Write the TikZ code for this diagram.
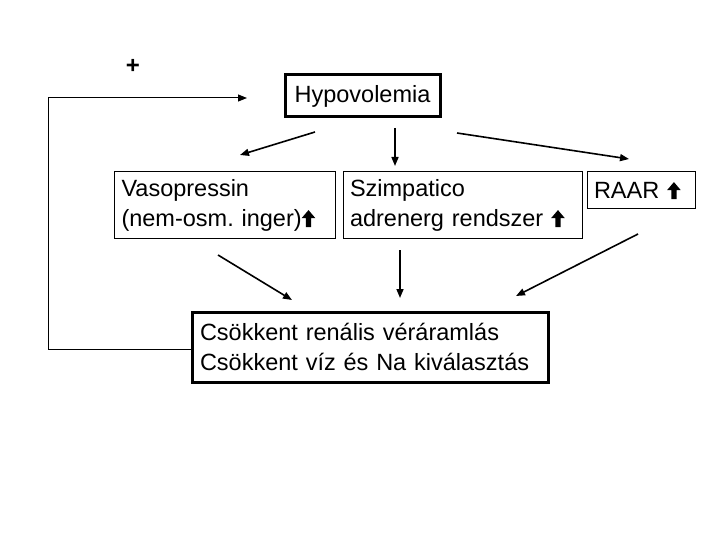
\documentclass[tikz,border=0pt]{standalone}
\usepackage{fontspec}
\setmainfont{Liberation Sans}
\usetikzlibrary{arrows.meta}
\newcommand{\fel}{\tikz[x=1pt, y=1pt, baseline=-1pt]
  \fill (-2.6,-2) -- (2.6,-2) -- (2.6,7) -- (6.8,7) -- (0,15) -- (-6.8,7) -- (-2.6,7) -- cycle;}

\begin{document}
\begin{tikzpicture}[x=1pt, y=-1pt,
  thinbox/.style={draw, line width=1pt, align=left, inner xsep=7pt},
  thickbox/.style={draw, line width=3pt, inner xsep=8pt},
  arr/.style={-{Triangle[length=9pt,width=7pt]}, line width=1.6pt}]
\useasboundingbox (0,0) rectangle (720,540);
\begin{scope}[every node/.style={font=\fontsize{23.5}{30}\selectfont, inner sep=0pt}]
\node [thickbox, minimum width=155pt, minimum height=42pt] (hypo) at (362.5,96) {Hypovolemia};
\node [thinbox, minimum width=221pt, minimum height=66pt, text width=207pt] (vaso) at (225,205)
  {Vasopressin\\(nem-osm.\ inger)\fel};
\node [thinbox, minimum width=239pt, minimum height=66pt, text width=225pt] (szimp) at (462.5,205)
  {Szimpatico\\adrenerg rendszer \fel};
\node [thinbox, minimum width=108pt, minimum height=37pt, text width=94pt] (raar) at (641,190.5)
  {RAAR \fel};
\node [thickbox, align=left, minimum width=356pt, minimum height=70pt, text width=340pt] (csokk) at (370,347)
  {Csökkent renális véráramlás\\Csökkent víz és Na kiválasztás};
\node [font=\bfseries\fontsize{24}{24}\selectfont] (plus) at (133,66) {+};
\end{scope}
% arrow ends
\coordinate (h1) at (315,132);  \coordinate (v1) at (240,155);
\coordinate (h2) at (395,128);  \coordinate (s1) at (395,166);
\coordinate (h3) at (457,133);  \coordinate (r1) at (629,159);
\coordinate (v2) at (218,255);  \coordinate (c1) at (292,300);
\coordinate (s2) at (400,250);  \coordinate (c2) at (400,298);
\coordinate (r2) at (638,234);  \coordinate (c3) at (516,296);
\foreach \a/\b in {h1/v1, h2/s1, h3/r1, v2/c1, s2/c2, r2/c3} {
  \draw [arr] (\a) -- (\b);
}
% feedback
\coordinate (back) at (247,98);
\draw [line width=1pt, -{Triangle[length=9pt,width=7pt]}]
  ([yshift=-2pt]csokk.west) -| (48,98) -- (back);
\end{tikzpicture}
\end{document}
